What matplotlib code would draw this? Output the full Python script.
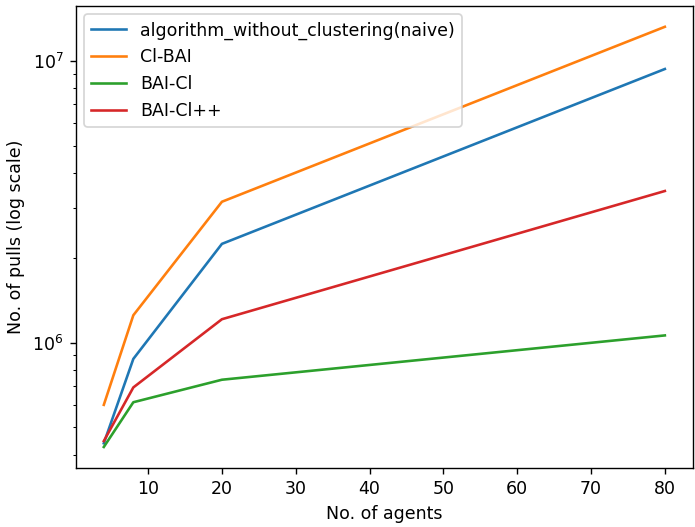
import matplotlib
matplotlib.use('Agg')
import matplotlib.pyplot as plt

# number of agents
agents = [4, 8, 20, 80]

# pulls per algorithm
naive_pulls = [4.39e5, 8.75e5, 2.24e6, 9.35e6]
cl_bai_pulls = [6.01e5, 1.25e6, 3.16e6, 1.32e7]
bai_cl_pulls = [4.26e5, 6.14e5, 7.38e5, 1.06e6]
bai_clpp_pulls = [4.47e5, 6.93e5, 1.21e6, 3.45e6]

labels = ['algorithm_without_clustering(naive)', 'Cl-BAI', 'BAI-Cl', 'BAI-Cl++']

# the original looks like a default figure saved at a higher dpi, cropped tight
fig = plt.figure(figsize=(5.56, 4.216), dpi=125)
plt.subplots_adjust(left=0.109, right=0.997, top=0.989, bottom=0.112)

plt.plot(agents, naive_pulls, label=labels[0])
plt.plot(agents, cl_bai_pulls, label=labels[1])
plt.plot(agents, bai_cl_pulls, label=labels[2])
plt.plot(agents, bai_clpp_pulls, label=labels[3])

plt.yscale('log')
plt.xlabel('No. of agents')
plt.ylabel('No. of pulls (log scale)')
plt.legend(loc='upper left')

plt.savefig('out.png', dpi=125)
